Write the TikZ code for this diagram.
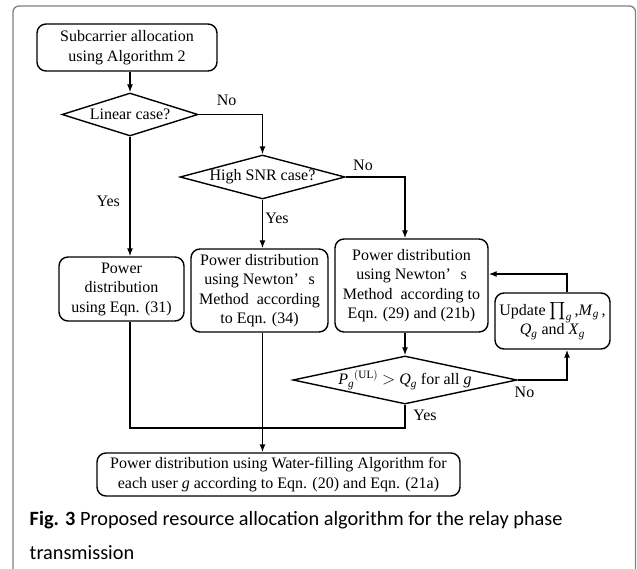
\documentclass[tikz,border=0pt]{standalone}
\usepackage{amsmath}
\usepackage{fontspec}
\setmainfont{Liberation Serif}
\newfontfamily\capfont{Carlito}
\usetikzlibrary{shapes.geometric,arrows.meta}

\tikzset{
  proc/.style={draw, rounded corners=9pt, align=center, inner sep=2pt,
    font=\fontsize{16}{19.5}\selectfont},
  dec/.style={draw, diamond, inner sep=0pt, align=center,
    font=\fontsize{16}{19.5}\selectfont},
  lbl/.style={inner sep=1pt, font=\fontsize{16}{19.5}\selectfont},
}
\newcommand{\vg}[1]{\textit{#1}$_{\textit{g}}$}

\begin{document}
\begin{tikzpicture}[x=1pt,y=-1pt,line width=1.4pt,>={Latex[length=8pt,width=6pt]}]
\useasboundingbox (0,0) rectangle (637,569);

% Frame
\draw[black!50,line width=1.3pt,rounded corners=6pt] (13,575) -- (13,6) -- (635.5,6) -- (635.5,575);

% Boxes
\node[proc, minimum width=180, minimum height=47] (start) at (127,47.5) {Subcarrier allocation\\using Algorithm 2};
\node[dec, aspect=3.2, minimum width=136, minimum height=43] (lin) at (130,114.5) {Linear case?};
\node[dec, aspect=3.75, minimum width=165, minimum height=44] (snr) at (262.5,177) {High SNR case?};
\node[proc, minimum width=125, minimum height=64] (eq31) at (121.5,289) {Power\\distribution\\using Eqn. (31)};
\node[proc, minimum width=137, minimum height=83] (eq34) at (259.5,290.5) {Power distribution\\using Newton’\hspace{.6em}s\\Method\ \ according\\to Eqn. (34)};
\node[proc, minimum width=153, minimum height=93] (eq29) at (411.5,285.5) {Power distribution\\using Newton’\hspace{.6em}s\\Method\ \ according to\\Eqn. (29) and (21b)};
\node[proc, minimum width=115, minimum height=56] (upd) at (552.5,321) {Update $\textstyle\prod_{\textit{g}}$\,,\vg{M}\,,\\\vg{Q} and \vg{X}};
\node[dec, aspect=4.66, minimum width=219, minimum height=46] (chk) at (405,380) {\vg{P}$^{(\mathrm{UL})}$ $>$ \vg{Q} for all \textit{g}};
\node[proc, minimum width=363, minimum height=43] (wf) at (278.5,474.5) {Power distribution using Water-filling Algorithm for\\each user \textit{g} according to Eqn. (20) and Eqn. (21a)};

% Corners
\coordinate (loop) at (567,274);
\coordinate (mrg) at (0,428);

% Flow
\draw[->] (lin.north |- start.south) -- (lin.north);
\draw[->] (lin.east) -| (snr.north);
\draw[->] (lin.south) -- (lin.south |- eq31.north);
\draw[->] (snr.south) -- (snr.south |- eq34.north);
\draw[->] (snr.east) -| (chk.north |- eq29.north);
\draw[->] (chk.north |- eq29.south) -- (chk.north);
\draw[->] (chk.east) -| (loop |- upd.south);
\draw[->] (loop |- upd.north) -- (loop) -- (loop -| eq29.east);
\draw (lin.south |- eq31.south) -- (lin.south |- mrg) -- (chk.south |- mrg) -- (chk.south);
\draw[->] (snr.south |- eq34.south) -- (snr.south |- wf.north);

% Labels
\node[lbl] (no1) at (226.7,100.5) {No};
\node[lbl] (yes1) at (108.3,201) {Yes};
\node[lbl] (yes2) at (277,218.5) {Yes};
\node[lbl] (no2) at (363,165) {No};
\node[lbl] (no3) at (524.5,392.5) {No};
\node[lbl] (yes3) at (425,415.5) {Yes};

% Caption
\node[anchor=base west, align=left, inner sep=0pt, font=\capfont\fontsize{20.3}{34}\selectfont] (cap) at (29,559)
  {\textbf{Fig. 3} Proposed resource allocation algorithm for the relay phase\\transmission};

\end{tikzpicture}
\end{document}
